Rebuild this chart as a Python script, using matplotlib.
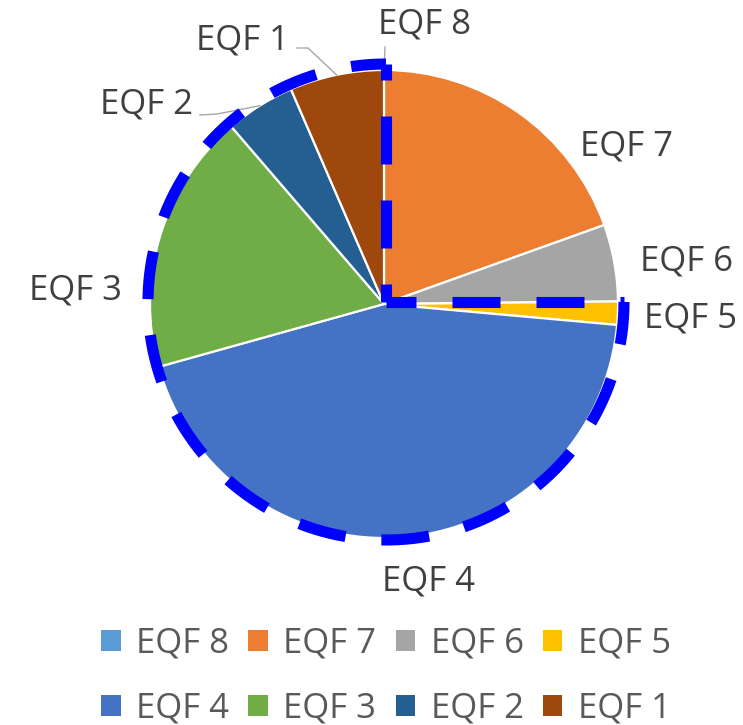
"""Pie of EQF shares with a dashed outline round EQF 1-5 and EQF 8."""

import matplotlib

matplotlib.use("Agg")
import matplotlib.pyplot as plt
from matplotlib.patches import Patch
import numpy as np

plt.rcParams["font.family"] = ["Open Sans", "DejaVu Sans"]

# data, in legend order (clockwise from 12 o'clock)
labels = ["EQF 8", "EQF 7", "EQF 6", "EQF 5", "EQF 4", "EQF 3", "EQF 2", "EQF 1"]
shares = [0.0, 19.5, 5.3, 1.6, 44.2, 18.0, 4.8, 6.5]
colors = ["#5B9BD5", "#ED7D31", "#A5A5A5", "#FFC000",
          "#4472C4", "#70AD47", "#255E91", "#9E480E"]

W, H = 743, 725
CX, CY, R = 384, H - 304, 234  # pie centre / radius in pixel units (y up)
FS = 25
LABEL_COLOR = "#404040"
LEGEND_COLOR = "#595959"

# label anchors (centre x, baseline y measured from the top) - layout only
label_pos = {
    "EQF 8": (424, 33),
    "EQF 7": (627, 155),
    "EQF 6": (687, 270),
    "EQF 5": (690, 327),
    "EQF 4": (428, 590),
    "EQF 3": (75, 299),
    "EQF 2": (147, 113),
    "EQF 1": (242, 49),
}
# labels joined to their slice by a gray leader line: elbow start points
leaders = {
    "EQF 8": [(385, 47)],
    "EQF 1": [(297, 48), (308, 48)],
    "EQF 2": [(200, 115), (217, 114)],
}

fig = plt.figure(figsize=(W / 100, H / 100), dpi=100)
ax = fig.add_axes([0, 0, 1, 1])

wedges, _ = ax.pie(
    shares,
    colors=colors,
    startangle=90,
    counterclock=False,
    center=(CX, CY),
    radius=R,
    wedgeprops=dict(edgecolor="white", linewidth=1.6),
    frame=True,
)
ax.set_xlim(0, W)
ax.set_ylim(0, H)
ax.set_aspect("equal")
ax.axis("off")

# slice labels
for name, w in zip(labels, wedges):
    x, y = label_pos[name]
    ax.text(x, H - y, name, ha="center", va="baseline",
            fontsize=FS, color=LABEL_COLOR)
    if name in leaders:
        mid = np.deg2rad((w.theta1 + w.theta2) / 2)
        pts = [(px, H - py) for px, py in leaders[name]]
        pts.append((CX + R * np.cos(mid), CY + R * np.sin(mid)))
        xs, ys = zip(*pts)
        ax.plot(xs, ys, color="#A6A6A6", lw=1.0, zorder=3)

# dashed outline: centre -> 12 o'clock, arc round the left to 3 o'clock,
# and back to the centre; each piece gets its own dash phase
LW = 8
px = LW * 100 / 72  # one linewidth in pixels
on, off = 48 / px, 36 / px
ox, oy, r_out = CX + 2, CY + 2, 238
blue = "#0000FF"

t = np.deg2rad(np.linspace(90, 360, 400))
pieces = [
    ([ox, ox], [oy, oy + r_out], 30 / px),                           # up
    (ox + r_out * np.cos(t), oy + r_out * np.sin(t), 13 / px),       # arc
    ([ox, ox + r_out], [oy, oy], 18 / px),                           # right
]
for xs, ys, phase in pieces:
    ax.plot(xs, ys, color=blue, lw=LW, linestyle=(phase, (on, off)),
            solid_capstyle="butt", dash_capstyle="butt", zorder=4)

# legend, filled row by row like the original
nrow, ncol = 2, 4
order = [r * ncol + c for c in range(ncol) for r in range(nrow)]
handles = [Patch(facecolor=colors[i], edgecolor="none") for i in order]
fig.legend(
    handles, [labels[i] for i in order], ncol=ncol, loc="center",
    bbox_to_anchor=(386 / W, 1 - 676 / H),
    frameon=False, fontsize=FS, labelcolor=LEGEND_COLOR,
    handlelength=0.56, handleheight=0.56, handletextpad=0.45,
    columnspacing=0.55, labelspacing=0.9,
)

fig.savefig("out.png", dpi=100)
